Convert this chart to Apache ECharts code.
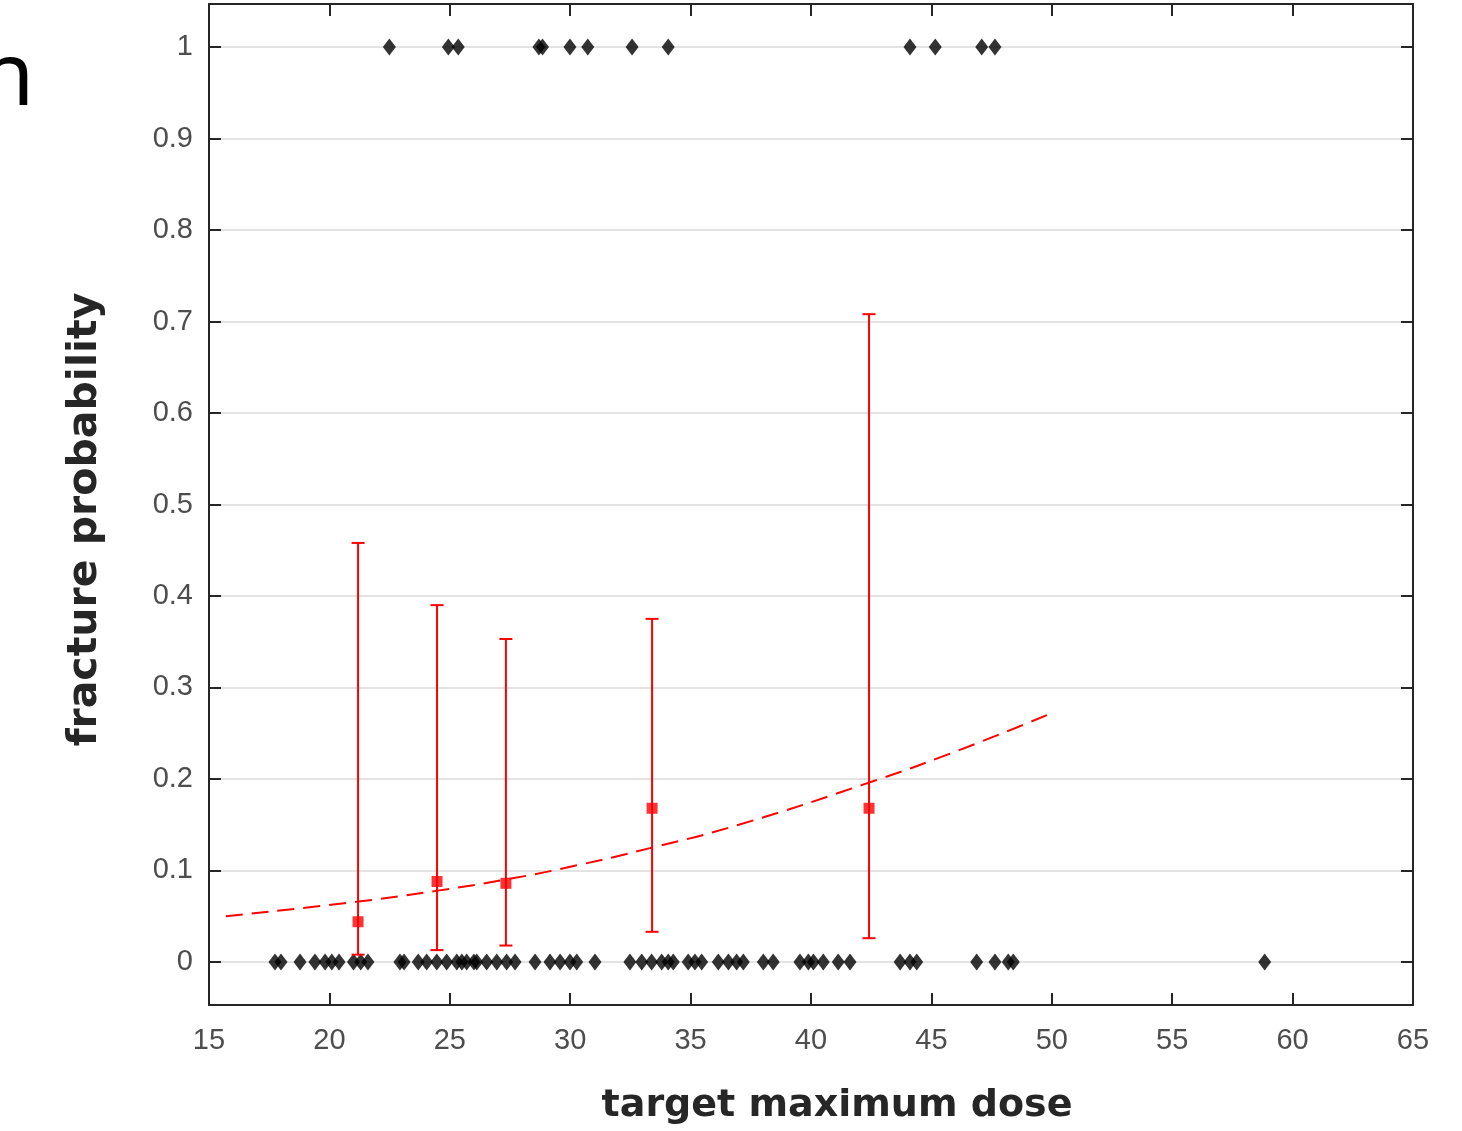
<!DOCTYPE html>
<html>
<head>
<meta charset="utf-8">
<script src="https://cdn.jsdelivr.net/npm/echarts@6/dist/echarts.min.js"></script>
<style>
  html, body { margin: 0; padding: 0; background: #fff; }
  #chart { width: 1462px; height: 1131px; }
</style>
</head>
<body>
<div id="chart"></div>
<script>
// patients with a fracture (y = 1) and without (y = 0)
const doseFracture = [22.49, 24.94, 25.35, 28.7, 28.85, 29.99, 30.73, 32.57, 34.07, 44.11, 45.16, 47.09, 47.64]
const doseNoFracture = [17.74, 17.99, 18.78, 19.40, 19.82, 20.1, 20.4, 21.0, 21.3, 21.6, 22.93, 23.1, 23.69, 24.04,
  24.46, 24.87, 25.29, 25.5, 25.70, 26.0, 26.12, 26.53, 26.95, 27.36, 27.71, 28.54, 29.16, 29.58, 29.99, 30.27,
  31.03, 32.48, 32.97, 33.38, 33.80, 34.07, 34.28, 34.90, 35.18, 35.46, 36.15, 36.57, 36.91, 37.19, 38.02,
  38.43, 39.54, 39.89, 40.10, 40.51, 41.13, 41.62, 43.70, 44.11, 44.39, 46.88, 47.64, 48.19, 48.40, 58.84]

// binned observed rates with confidence intervals
const binDose = [21.19, 24.47, 27.33, 33.40, 42.41]
const binProb = [0.044, 0.088, 0.086, 0.168, 0.168]
const ciLow = [0.008, 0.013, 0.018, 0.033, 0.026]
const ciHigh = [0.458, 0.390, 0.353, 0.375, 0.708]

// fitted curve
const fitDose = [15.7, 21.2, 24.5, 27.3, 30, 33.4, 37, 42.4, 46, 50]
const fitProb = [0.050, 0.066, 0.078, 0.090, 0.104, 0.125, 0.150, 0.196, 0.230, 0.272]

const yTicks = [0, 0.1, 0.2, 0.3, 0.4, 0.5, 0.6, 0.7, 0.8, 0.9, 1]

const axisColor = '#262626'
const labelColor = '#4d4d4d'
const font = 'Liberation Sans, Arial, Helvetica, sans-serif'
const titleFont = '"DejaVu Sans", sans-serif'

const myChart = echarts.init(document.getElementById('chart'))

const xBase = {
  type: 'value',
  min: 15,
  max: 65,
  interval: 5,
  axisLine: { show: true, onZero: false, lineStyle: { color: axisColor, width: 2 } },
  axisTick: { show: true, inside: true, length: 12, lineStyle: { color: axisColor, width: 2 } },
  splitLine: { show: false }
}
const yBase = {
  type: 'value',
  min: -0.047,
  max: 1.047,
  axisLine: { show: true, onZero: false, lineStyle: { color: axisColor, width: 2 } },
  axisTick: { show: true, inside: true, length: 12, customValues: yTicks, lineStyle: { color: axisColor, width: 2 } }
}

const option = {
  animation: false,
  backgroundColor: '#fff',
  grid: {
    left: 209, right: 49, top: 4, bottom: 126,
    outerBoundsMode: 'none'
  },
  graphic: [
    {
      type: 'text',
      left: -20,
      top: 36,
      style: { text: 'n', font: '88px "Noto Sans", sans-serif', fill: '#000' }
    }
  ],
  xAxis: [
    Object.assign({}, xBase, {
      position: 'bottom',
      axisLabel: { show: true, margin: 21, color: labelColor, fontSize: 29, fontFamily: font },
      name: 'target maximum dose',
      nameLocation: 'middle',
      nameGap: 82,
      nameTextStyle: { color: axisColor, fontSize: 38, fontWeight: 'bold', fontFamily: titleFont, padding: [0, 0, 0, 52] }
    }),
    Object.assign({}, xBase, { position: 'top', axisLabel: { show: false } })
  ],
  yAxis: [
    Object.assign({}, yBase, {
      position: 'left',
      axisLabel: { show: true, margin: 16, color: labelColor, fontSize: 29, fontFamily: font, customValues: yTicks },
      splitLine: { show: true, lineStyle: { color: '#e3e3e3', width: 2 } },
      name: 'fracture probability',
      nameLocation: 'middle',
      nameRotate: 90,
      nameGap: 103,
      nameTextStyle: { color: axisColor, fontSize: 41, fontWeight: 'bold', fontFamily: titleFont, padding: [0, 30, 0, 0] }
    }),
    Object.assign({}, yBase, { position: 'right', axisLabel: { show: false }, splitLine: { show: false } })
  ],
  series: [
    {
      type: 'scatter',
      symbol: 'diamond',
      symbolSize: [13, 17],
      itemStyle: { color: '#000' },
      data: doseNoFracture.map(d => [d, 0]),
      z: 2
    },
    {
      type: 'scatter',
      symbol: 'diamond',
      symbolSize: [13, 17],
      itemStyle: { color: '#000' },
      data: doseFracture.map(d => [d, 1]),
      z: 2
    },
    {
      type: 'line',
      data: fitDose.map((d, i) => [d, fitProb[i]]),
      smooth: true,
      showSymbol: false,
      lineStyle: { color: '#ff0000', width: 2, type: [17, 9] },
      z: 3
    },
    {
      type: 'custom',
      data: binDose.map((d, i) => [d, ciLow[i], ciHigh[i]]),
      encode: { x: 0, y: [1, 2] },
      renderItem: (params, api) => {
        const x = api.value(0)
        const lo = api.coord([x, api.value(1)])
        const hi = api.coord([x, api.value(2)])
        const w = 6.5
        const st = { stroke: '#ff0000', lineWidth: 2 }
        return {
          type: 'group',
          children: [
            { type: 'line', shape: { x1: lo[0], y1: lo[1], x2: hi[0], y2: hi[1] }, style: st },
            { type: 'line', shape: { x1: hi[0] - w, y1: hi[1], x2: hi[0] + w, y2: hi[1] }, style: st },
            { type: 'line', shape: { x1: lo[0] - w, y1: lo[1], x2: lo[0] + w, y2: lo[1] }, style: st }
          ]
        }
      },
      z: 4
    },
    {
      type: 'scatter',
      symbol: 'rect',
      symbolSize: 11,
      itemStyle: { color: '#ff0000' },
      data: binDose.map((d, i) => [d, binProb[i]]),
      z: 5
    }
  ]
}

myChart.setOption(option)
</script>
</body>
</html>
